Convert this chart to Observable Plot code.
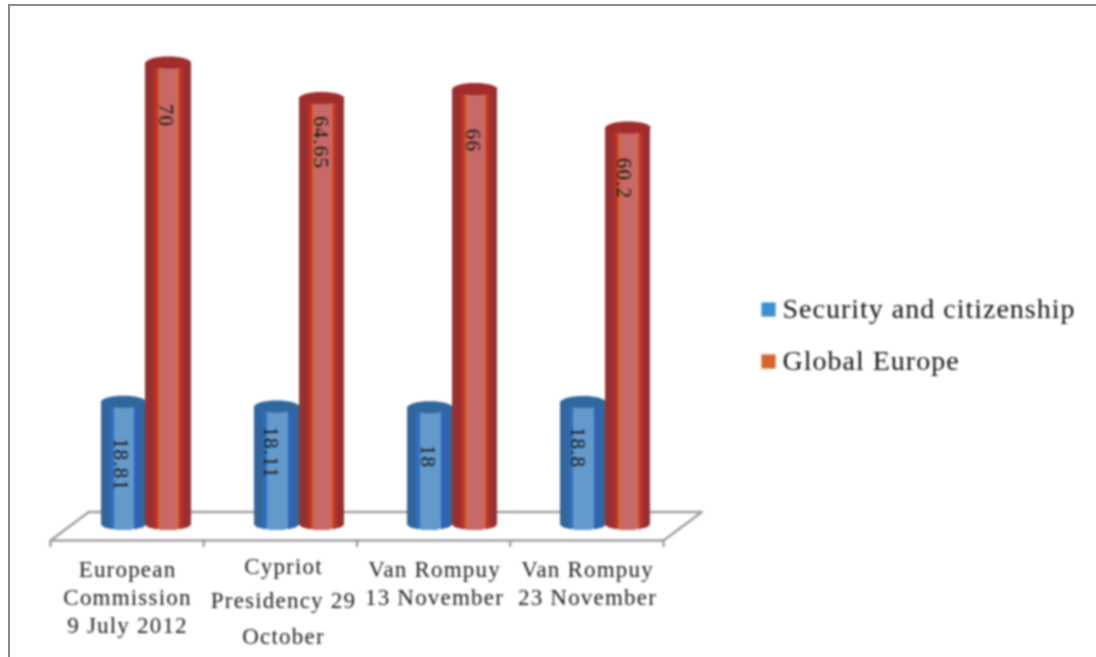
<!DOCTYPE html>
<html><head><meta charset="utf-8">
<script src="https://cdn.jsdelivr.net/npm/d3@7"></script>
<script src="https://cdn.jsdelivr.net/npm/@observablehq/plot@0.6"></script>
<style>
html,body{margin:0;padding:0;background:#fff;overflow:hidden}
#frame{position:absolute;left:8px;top:4px;width:1100px;height:670px;border:2.5px solid #8a8a8a;box-sizing:border-box}
#chart{position:absolute;left:0;top:0;filter:blur(0.8px)}
</style></head><body>
<div id="frame"></div>
<div id="chart"></div>
<script>
const categories = ["European Commission 9 July 2012","Cypriot Presidency 29 October","Van Rompuy 13 November","Van Rompuy 23 November"];
const securityValues = [18.81,18.11,18,18.8];
const globalValues = [70,64.65,66,60.2];
const seriesNames = ["Security and citizenship","Global Europe"];
const legendColors = ["#3f8ed0","#d2642c"];
const capColors = ["#30679f","#a02c2c"];
const blueStops = [[0,.2,"#34659b"],[.2,.3,"#2f6fc0"],[.3,.76,"#6499cb"],[.76,.88,"#2f63b5"],[.88,1.01,"#34659b"]];
const redStops = [[0,.2,"#973131"],[.2,.3,"#c0302a"],[.3,.36,"#cc6b3a"],[.36,.71,"#c96868"],[.71,.75,"#cc6b3a"],[.75,.84,"#c0302a"],[.84,1.01,"#973131"]];
const labelRows = [
  {cat:0,lines:[["European",569],["Commission",597],["9 July 2012",625]],cx:127},
  {cat:1,lines:[["Cypriot",566],["Presidency 29",600],["October",636]],cx:283},
  {cat:2,lines:[["Van Rompuy",569],["13 November",597]],cx:434},
  {cat:3,lines:[["Van Rompuy",569],["23 November",597]],cx:587}
];
const blueLabelPixel = [[120,464],[270,452],[427,456],[577,447]];
const redLabelPixel = [[165,115],[320,142],[472,140],[623,178]];

// scales
const X0=50,X1=663,Y0=526,Y70=62;
const xu=(X1-X0)/4, yu=(Y0-Y70)/70;
const py=p=>(Y0-p)/yu, px=p=>(p-X0)/xu;
const barW=.293, blueStart=.33, redStart=.623;
const ry=6, baseV=py(524);

function ellipseSym(rxp,ryp){return {draw(c){const k=.5523;
  c.moveTo(-rxp,0);
  c.bezierCurveTo(-rxp,-k*ryp,-k*rxp,-ryp,0,-ryp);
  c.bezierCurveTo(k*rxp,-ryp,rxp,-k*ryp,rxp,0);
  c.bezierCurveTo(rxp,k*ryp,k*rxp,ryp,0,ryp);
  c.bezierCurveTo(-k*rxp,ryp,-rxp,k*ryp,-rxp,0);c.closePath();}}}

function stripes(vals,start,stops){const out=[];const n=45;
  vals.forEach((v,i)=>{for(let s=0;s<n;s++){
    const a=s/n,b=(s+1)/n,m=(a+b)/2;
    const col=stops.find(t=>m>=t[0]&&m<t[1])[2];
    const e=Math.sqrt(1-(2*m-1)**2);
    out.push({x1:i+start+a*barW,x2:i+start+b*barW+.002,y1:baseV-(ry*e)/yu,y2:v,fill:col});
  }});return out;}

const bars=[...stripes(securityValues,blueStart,blueStops),...stripes(globalValues,redStart,redStops)];
const caps=[...securityValues.map((v,i)=>({x:i+blueStart+barW/2,y:v,f:capColors[0]})),...globalValues.map((v,i)=>({x:i+redStart+barW/2,y:v,f:capColors[1]}))];
const rxp=barW*xu/2;

const fV=py(540), bV=py(511.5), depth=.25;
const floor=[{x:0,y:fV},{x:4,y:fV},{x:4+depth,y:bV},{x:depth,y:bV},{x:0,y:fV}];
const ticks=[0,1,2,3,4];

const textLines=labelRows.flatMap(r=>r.lines.map(([t,p])=>({x:px(r.cx),y:py(p),t})));
const valueLabels=[
 ...securityValues.map((v,i)=>({x:px(blueLabelPixel[i][0]),y:py(blueLabelPixel[i][1]),t:String(v)})),
 ...globalValues.map((v,i)=>({x:px(redLabelPixel[i][0]),y:py(redLabelPixel[i][1]),t:String(v)}))
];
const legend=seriesNames.map((n,i)=>({n,c:legendColors[i],p:[309,361][i]}));

const chart=Plot.plot({
  width:1096,height:657,margin:0,
  x:{type:"linear",domain:[0,4],range:[X0,X1],axis:null},
  y:{type:"linear",domain:[0,70],range:[Y0,Y70],axis:null},
  style:{background:"transparent"},
  marks:[
    Plot.line(floor,{x:"x",y:"y",stroke:"#a0a0a0",strokeWidth:2.4}),
    Plot.ruleX(ticks,{x:d=>d,y1:py(540),y2:py(547),stroke:"#909090",strokeWidth:2}),
    Plot.rect(bars,{x1:"x1",x2:"x2",y1:"y1",y2:"y2",fill:d=>d.fill,shapeRendering:"crispEdges"}),
    ...caps.map(c=>Plot.dot([c],{x:"x",y:"y",r:5,fill:c.f,stroke:null,symbol:ellipseSym(rxp,ry)})),
    Plot.text(valueLabels,{x:"x",y:"y",text:"t",rotate:90,fontFamily:"Liberation Serif",fontSize:21,fill:"#111"}),
    Plot.text(textLines,{x:"x",y:"y",text:"t",fontFamily:"Liberation Serif",fontSize:23,fill:"#1a1a1a"}),
    Plot.dot(legend,{x:px(768),y:d=>py(d.p),symbol:"square",r:8,fill:d=>d.c,stroke:null}),
    Plot.text(legend,{x:px(782),y:d=>py(d.p),text:"n",textAnchor:"start",fontFamily:"Liberation Serif",fontSize:28,fill:"#111"})
  ]
});
// tracking of the stretched original type
const tracking={21:"1.2px",23:"1.2px",28:"1px"};
chart.querySelectorAll("g[font-size]").forEach(g=>{const t=tracking[parseFloat(g.getAttribute("font-size"))];if(t)g.style.letterSpacing=t;});
document.getElementById("chart").appendChild(chart);
</script>
</body></html>
